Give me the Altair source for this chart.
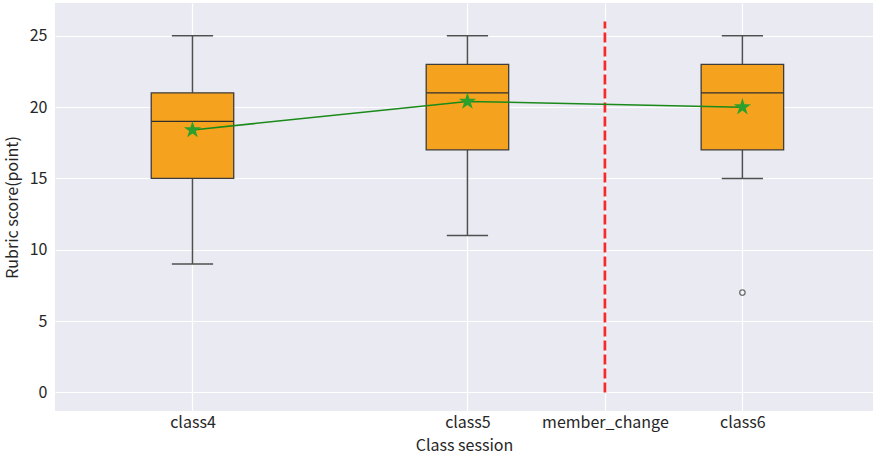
import altair as alt
import pandas as pd

# Box statistics per class session
sessions = ["class4", "class5", "class6"]
positions = [1, 3, 5]
whisker_low = [9, 11, 15]
q1 = [15, 17, 17]
median = [19, 21, 21]
q3 = [21, 23, 23]
whisker_high = [25, 25, 25]
means = [18.4, 20.4, 20.0]

# Points beyond the whiskers
outlier_pos = [5]
outlier_val = [7]

# Axis ticks
tick_positions = [1, 3, 4, 5]
tick_labels = ["class4", "class5", "member_change", "class6"]

# Marker for the team-member change
change_pos = [4]
change_low = [0]
change_high = [26]

FONT = "Noto Sans CJK JP"
BOX_HALF = 0.3
CAP_HALF = 0.15

# Five-pointed star in the [-1, 1] symbol space
STAR = ("M0,-1L0.2245,-0.309L0.9511,-0.309L0.3633,0.118L0.5878,0.809"
        "L0,0.382L-0.5878,0.809L-0.3633,0.118L-0.9511,-0.309L-0.2245,-0.309Z")

stats = pd.DataFrame({
    "session": sessions, "pos": positions, "wlo": whisker_low, "q1": q1,
    "med": median, "q3": q3, "whi": whisker_high, "mean": means,
})
outliers = pd.DataFrame({"pos": outlier_pos, "val": outlier_val})
change = pd.DataFrame({"pos": change_pos, "lo": change_low, "hi": change_high})

label_map = "{" + ",".join(f"'{p}':'{l}'" for p, l in zip(tick_positions, tick_labels)) + "}"

x_scale = alt.Scale(domain=[0, 5.95], nice=False, zero=False)
y_scale = alt.Scale(domain=[-1.3, 27.3], nice=False, zero=False)

x_axis = alt.Axis(values=tick_positions, labelExpr=f"{label_map}[datum.value]",
                  title="Class session", grid=True, ticks=False, domain=False,
                  labelPadding=3, titlePadding=7, labelAngle=0, orient="bottom")
y_axis = alt.Axis(values=[0, 5, 10, 15, 20, 25], title="Rubric score(point)",
                  grid=True, ticks=False, domain=False, labelPadding=8, titlePadding=9,
                  orient="left")

base = alt.Chart(stats).transform_calculate(
    box_lo=f"datum.pos - {BOX_HALF}", box_hi=f"datum.pos + {BOX_HALF}",
    cap_lo=f"datum.pos - {CAP_HALF}", cap_hi=f"datum.pos + {CAP_HALF}",
)

whiskers = base.mark_rule(color="#4f4f4f", strokeWidth=1.5).encode(
    x=alt.X("pos:Q", scale=x_scale, axis=x_axis),
    y=alt.Y("wlo:Q", scale=y_scale, axis=y_axis),
    y2="whi:Q",
)
cap_low = base.mark_rule(color="#4f4f4f", strokeWidth=1.5).encode(
    x="cap_lo:Q", x2="cap_hi:Q", y="wlo:Q")
cap_high = base.mark_rule(color="#4f4f4f", strokeWidth=1.5).encode(
    x="cap_lo:Q", x2="cap_hi:Q", y="whi:Q")
boxes = base.mark_rect(fill="#F5A31E", stroke="#3d3d3d", strokeWidth=1.3).encode(
    x="box_lo:Q", x2="box_hi:Q", y="q1:Q", y2="q3:Q")
medians = base.mark_rule(color="#2e2e2e", strokeWidth=1.3).encode(
    x="box_lo:Q", x2="box_hi:Q", y="med:Q")

fliers = alt.Chart(outliers).mark_point(
    shape="circle", filled=False, color="#3d3d3d", size=30, strokeWidth=1.3
).encode(x="pos:Q", y="val:Q")

change_line = alt.Chart(change).mark_rule(
    color="#F52B2B", strokeWidth=2.7, strokeDash=[10, 4]
).encode(x="pos:Q", y="lo:Q", y2="hi:Q")

mean_line = base.mark_line(color="#1a8a1a", strokeWidth=1.5).encode(
    x="pos:Q", y="mean:Q", order="pos:Q")
mean_stars = base.mark_point(
    shape=STAR, filled=True, color="#2ca02c", size=330, opacity=1
).encode(x="pos:Q", y="mean:Q")

chart = alt.layer(
    whiskers, cap_low, cap_high, boxes, medians, fliers, change_line, mean_line, mean_stars
).properties(
    width=818, height=408,
    autosize=alt.AutoSizeParams(type="none"),
    padding={"left": 55, "top": 3, "right": 0, "bottom": 44},
    background="white",
).configure_view(
    fill="#EAEAF2", stroke=None
).configure_axis(
    gridColor="white", gridWidth=1.2,
    labelFont=FONT, titleFont=FONT, labelFontSize=16, titleFontSize=16,
    labelColor="#262626", titleColor="#262626", titleFontWeight="normal",
)

chart.save("out.html", embed_options={"renderer": "svg", "actions": False})
